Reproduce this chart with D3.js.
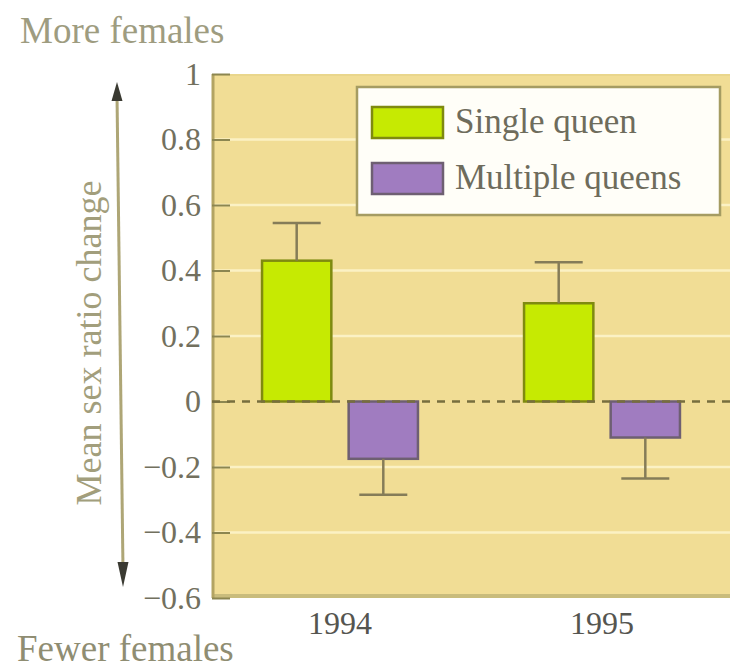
<!DOCTYPE html>
<html>
<head>
<meta charset="utf-8">
<script src="https://d3js.org/d3.v7.min.js"></script>
<style>
  body { margin: 0; background: #fff; }
  text { font-family: "Liberation Serif", "Times New Roman", serif; }
</style>
</head>
<body>
<div id="chart"></div>
<script>
// data
var years = ["1994", "1995"];
var seriesNames = ["Single queen", "Multiple queens"];
var singleMeans = [0.43, 0.30];
var singleErrors = [0.115, 0.125];
var multipleMeans = [-0.175, -0.11];
var multipleErrors = [0.11, 0.125];
var yTickValues = [1, 0.8, 0.6, 0.4, 0.2, 0, -0.2, -0.4, -0.6];
var yTickLabels = ["1", "0.8", "0.6", "0.4", "0.2", "0", "\u22120.2", "\u22120.4", "\u22120.6"];

var colors = { "Single queen": "#c6ea02", "Multiple queens": "#a07cc0" };
var strokes = { "Single queen": "#7f8a10", "Multiple queens": "#6e5f72" };

var w = 744, h = 671;
var plot = { left: 212, right: 730, top: 74, bottom: 598 };

var rows = [];
years.forEach(function (yr, i) {
    rows.push({ year: yr, series: seriesNames[0], mean: singleMeans[i], err: singleErrors[i] });
    rows.push({ year: yr, series: seriesNames[1], mean: multipleMeans[i], err: multipleErrors[i] });
});

var svg = d3.select("#chart").append("svg")
    .attr("width", w)
    .attr("height", h);

var y = d3.scaleLinear().domain([-0.6, 1]).range([plot.bottom, plot.top]);
var x0 = d3.scaleBand().domain(years).range([plot.left, plot.right])
    .paddingInner(0.405).paddingOuter(0.191);
var x1 = d3.scaleBand().domain(seriesNames).range([0, x0.bandwidth()])
    .paddingInner(0.2).paddingOuter(0);

// panel background
svg.append("rect")
    .attr("x", plot.left).attr("y", plot.top)
    .attr("width", plot.right - plot.left)
    .attr("height", plot.bottom - plot.top)
    .attr("fill", "#f1dd95");

// light gridlines
svg.selectAll(".grid")
    .data(yTickValues.filter(function (d) { return d !== 0 && d !== 1 && d !== -0.6; }))
    .enter().append("line")
    .attr("class", "grid")
    .attr("x1", plot.left).attr("x2", plot.right)
    .attr("y1", function (d) { return y(d); })
    .attr("y2", function (d) { return y(d); })
    .attr("stroke", "#fbf1c4")
    .attr("stroke-width", 2.5);

// panel edges
svg.append("line")
    .attr("x1", plot.left).attr("x2", plot.right)
    .attr("y1", plot.bottom - 2).attr("y2", plot.bottom - 2)
    .attr("stroke", "#c9bc7c").attr("stroke-width", 4);
svg.append("line")
    .attr("x1", plot.left).attr("x2", plot.right)
    .attr("y1", plot.top + 1).attr("y2", plot.top + 1)
    .attr("stroke", "#e9d68c").attr("stroke-width", 2);
svg.append("line")
    .attr("x1", plot.left + 1).attr("x2", plot.left + 1)
    .attr("y1", plot.top).attr("y2", plot.bottom)
    .attr("stroke", "#b3a462").attr("stroke-width", 3);

// y axis ticks and labels
var yAxis = d3.axisLeft(y)
    .tickValues(yTickValues)
    .tickSize(-18)
    .tickPadding(12)
    .tickFormat(function (d, i) { return yTickLabels[i]; });

var yAxisG = svg.append("g")
    .attr("transform", "translate(" + plot.left + ",0)")
    .call(yAxis);
yAxisG.select(".domain").remove();
yAxisG.selectAll(".tick line")
    .attr("stroke", "#8c8650")
    .attr("stroke-width", 2);
yAxisG.selectAll(".tick text")
    .attr("x", -11)
    .attr("fill", "#72705e")
    .style("font-family", "'Liberation Serif', serif")
    .style("font-size", "32px");

// bars
var bars = svg.selectAll(".bar")
    .data(rows)
    .enter().append("rect")
    .attr("class", "bar")
    .attr("x", function (d) { return x0(d.year) + x1(d.series); })
    .attr("width", x1.bandwidth())
    .attr("y", function (d) { return y(Math.max(0, d.mean)); })
    .attr("height", function (d) { return Math.abs(y(d.mean) - y(0)); })
    .attr("fill", function (d) { return colors[d.series]; })
    .attr("stroke", function (d) { return strokes[d.series]; })
    .attr("stroke-width", 2.5);

// error bars, pointing away from zero
var capHalf = 24;
var errG = svg.selectAll(".err")
    .data(rows)
    .enter().append("g")
    .attr("class", "err")
    .attr("transform", function (d) {
        return "translate(" + (x0(d.year) + x1(d.series) + x1.bandwidth() / 2) + ",0)";
    });
errG.append("line")
    .attr("x1", 0).attr("x2", 0)
    .attr("y1", function (d) { return y(d.mean); })
    .attr("y2", function (d) { return y(d.mean > 0 ? d.mean + d.err : d.mean - d.err); })
    .attr("stroke", "#857c58").attr("stroke-width", 2.5);
errG.append("line")
    .attr("x1", -capHalf).attr("x2", capHalf)
    .attr("y1", function (d) { return y(d.mean > 0 ? d.mean + d.err : d.mean - d.err); })
    .attr("y2", function (d) { return y(d.mean > 0 ? d.mean + d.err : d.mean - d.err); })
    .attr("stroke", "#857c58").attr("stroke-width", 2.5);

// dashed zero line
svg.append("line")
    .attr("x1", plot.left).attr("x2", plot.right)
    .attr("y1", y(0)).attr("y2", y(0))
    .attr("stroke", "#776e3e")
    .attr("stroke-width", 2.5)
    .attr("stroke-dasharray", "8,7");

// x axis labels
var xAxis = d3.axisBottom(x0).tickSize(0).tickPadding(0);
var xAxisG = svg.append("g")
    .attr("transform", "translate(0," + plot.bottom + ")")
    .call(xAxis);
xAxisG.select(".domain").remove();
xAxisG.selectAll(".tick text")
    .attr("y", 36)
    .attr("dy", 0)
    .attr("fill", "#555550")
    .style("font-family", "'Liberation Serif', serif")
    .style("font-size", "32px");

// legend
var legend = svg.append("g").attr("transform", "translate(357,87)");
legend.append("rect")
    .attr("width", 363).attr("height", 128)
    .attr("fill", "#fffef8")
    .attr("stroke", "#a59c62").attr("stroke-width", 2.5);
var legendItem = legend.selectAll(".legend-item")
    .data(seriesNames)
    .enter().append("g")
    .attr("class", "legend-item")
    .attr("transform", function (d, i) { return "translate(15," + (20 + i * 56) + ")"; });
legendItem.append("rect")
    .attr("width", 71).attr("height", 31)
    .attr("fill", function (d) { return colors[d]; })
    .attr("stroke", function (d) { return strokes[d]; })
    .attr("stroke-width", 2.5);
legendItem.append("text")
    .attr("x", 83).attr("y", 26)
    .attr("fill", "#6e6c5c")
    .style("font-size", "35px")
    .text(function (d) { return d; });

// direction arrow on the left
svg.append("line")
    .attr("x1", 117).attr("y1", 95)
    .attr("x2", 123).attr("y2", 570)
    .attr("stroke", "#aea676").attr("stroke-width", 3);
svg.append("path")
    .attr("d", "M117,82 L111.5,101 L122.5,101 Z")
    .attr("fill", "#3a3a32");
svg.append("path")
    .attr("d", "M123,587 L117.5,562 L128.5,562 Z")
    .attr("fill", "#3a3a32");

// axis title and direction words
svg.append("text")
    .attr("transform", "translate(101,343) rotate(-90)")
    .attr("text-anchor", "middle")
    .attr("fill", "#a29e7c")
    .style("font-size", "36px")
    .text("Mean sex ratio change");

svg.append("text")
    .attr("x", 20).attr("y", 43)
    .attr("fill", "#9e9c80")
    .style("font-size", "37px")
    .text("More females");

svg.append("text")
    .attr("x", 17).attr("y", 661)
    .attr("fill", "#8f8d72")
    .style("font-size", "37px")
    .text("Fewer females");
</script>
</body>
</html>
